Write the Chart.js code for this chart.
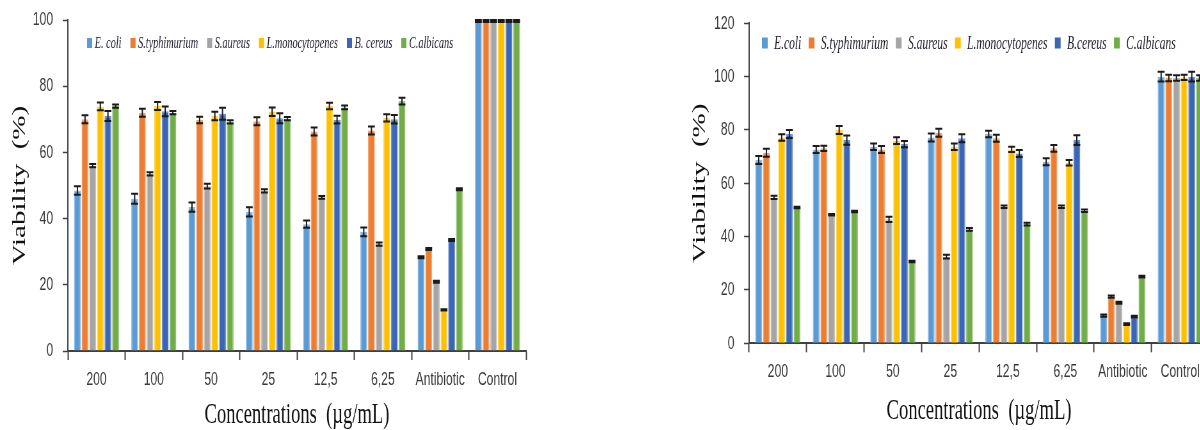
<!DOCTYPE html>
<html>
<head>
<meta charset="utf-8">
<title>Viability</title>
<script src="https://cdn.jsdelivr.net/npm/chart.js@4.4.1/dist/chart.umd.min.js"></script>
<style>
  html, body { margin: 0; padding: 0; background: #fff; width: 1200px; height: 430px; overflow: hidden; }
  /* both panels are drawn wide and squeezed horizontally, like the exported figure */
  .panel { position: absolute; top: 0; transform-origin: 0 0; transform: scaleX(0.64); }
  #panelA { left: 0; }
  #panelB { left: 680px; }
</style>
</head>
<body>
<div class="panel" id="panelA"><canvas id="chartA" width="875" height="430"></canvas></div>
<div class="panel" id="panelB"><canvas id="chartB" width="830" height="430"></canvas></div>
<script>
// concentration groups on the x axis
const categories = ['200', '100', '50', '25', '12,5', '6,25', 'Antibiotic', 'Control'];

// organism names as printed in each legend
const namesA = ['E. coli', 'S.typhimurium', 'S.aureus', 'L.monocytopenes', 'B. cereus', 'C.albicans'];
const namesB = ['E.coli', 'S.typhimurium', 'S.aureus', 'L.monocytopenes', 'B.cereus', 'C.albicans'];

const fillColors = ['#5B9BD5', '#ED7D31', '#A5A5A5', '#FFC000', '#3A66B8', '#70AD47'];
const edgeColors = ['#8DB9E4', '#F3A673', '#C4C4C4', '#FFD55C', '#6F8FCE', '#9CC67F'];

// y-axis ticks
const ticksA = [0, 20, 40, 60, 80, 100];
const ticksB = [0, 20, 40, 60, 80, 100, 120];

// panel A: viability (%) per organism, with error half-widths
const ecoliA      = [48.5, 46.0, 43.5, 42.0, 38.3, 36.0, 28.3, 99.7];
const ecoliErrA   = [1.3, 1.5, 1.4, 1.4, 1.1, 1.3, 0.3, 0.3];
const styphiA     = [70.0, 72.0, 69.8, 69.4, 66.3, 66.6, 30.8, 99.7];
const styphiErrA  = [1.2, 1.2, 1.0, 1.2, 1.2, 1.2, 0.3, 0.3];
const saureusA    = [56.0, 53.5, 49.8, 48.4, 46.4, 32.3, 20.9, 99.7];
const saureusErrA = [0.5, 0.5, 0.7, 0.5, 0.4, 0.5, 0.3, 0.3];
const lmonoA      = [73.9, 74.0, 71.0, 72.3, 74.0, 70.4, 12.4, 99.7];
const lmonoErrA   = [1.2, 1.2, 1.3, 1.3, 1.0, 1.1, 0.2, 0.3];
const bcereusA    = [71.0, 72.4, 71.7, 70.3, 69.9, 70.0, 33.5, 99.7];
const bcereusErrA = [1.5, 1.5, 1.8, 1.5, 1.2, 1.3, 0.3, 0.3];
const calbA       = [74.0, 72.0, 69.2, 70.2, 73.6, 75.5, 48.9, 99.7];
const calbErrA    = [0.5, 0.5, 0.5, 0.5, 0.6, 1.0, 0.3, 0.3];

// panel B: viability (%) per organism, with error half-widths
const ecoliB      = [68.7, 72.7, 73.7, 77.2, 78.5, 68.1, 10.4, 100.0];
const ecoliErrB   = [1.5, 1.3, 1.2, 1.5, 1.2, 1.3, 0.4, 1.8];
const styphiB     = [71.5, 73.1, 72.7, 79.0, 76.9, 73.1, 17.5, 99.5];
const styphiErrB  = [1.5, 1.0, 1.3, 1.5, 1.3, 1.3, 0.4, 1.2];
const saureusB    = [54.7, 48.2, 46.5, 32.5, 51.2, 51.2, 15.2, 99.5];
const saureusErrB = [0.6, 0.3, 1.0, 0.7, 0.5, 0.5, 0.4, 1.0];
const lmonoB      = [77.2, 80.0, 76.0, 73.7, 72.7, 67.7, 7.2, 99.7];
const lmonoErrB   = [1.2, 1.5, 1.3, 1.2, 1.0, 1.0, 0.3, 1.0];
const bcereusB    = [78.5, 76.2, 74.7, 76.9, 71.2, 76.2, 10.0, 100.0];
const bcereusErrB = [1.5, 1.7, 1.2, 1.5, 1.3, 1.8, 0.3, 1.8];
const calbB       = [50.9, 49.4, 30.7, 42.7, 44.7, 49.7, 25.0, 99.5];
const calbErrB    = [0.3, 0.3, 0.3, 0.5, 0.5, 0.5, 0.3, 1.0];

const valuesA = [ecoliA, styphiA, saureusA, lmonoA, bcereusA, calbA];
const errorsA = [ecoliErrA, styphiErrA, saureusErrA, lmonoErrA, bcereusErrA, calbErrA];
const valuesB = [ecoliB, styphiB, saureusB, lmonoB, bcereusB, calbB];
const errorsB = [ecoliErrB, styphiErrB, saureusErrB, lmonoErrB, bcereusErrB, calbErrB];

const SANS = "'Liberation Sans', Arial, sans-serif";
const SERIF = "'Liberation Serif', 'Times New Roman', serif";

// standard-deviation whiskers drawn on top of each bar
const errorBars = {
  id: 'errorBars',
  afterDatasetsDraw(chart, args, opts) {
    const { ctx } = chart;
    const y = chart.scales.y;
    ctx.save();
    ctx.strokeStyle = opts.color;
    ctx.lineWidth = opts.lineWidth;
    chart.data.datasets.forEach((ds, i) => {
      const meta = chart.getDatasetMeta(i);
      meta.data.forEach((bar, j) => {
        const v = ds.data[j], e = ds.errors[j];
        const top = y.getPixelForValue(v + e);
        const bot = y.getPixelForValue(v - e);
        const half = bar.width * opts.capRatio / 2;
        ctx.beginPath();
        ctx.moveTo(bar.x, top); ctx.lineTo(bar.x, bot);
        ctx.moveTo(bar.x - half, top); ctx.lineTo(bar.x + half, top);
        ctx.moveTo(bar.x - half, bot); ctx.lineTo(bar.x + half, bot);
        ctx.stroke();
      });
    });
    ctx.restore();
  }
};

// single-row legend placed inside the plot area
const inlineLegend = {
  id: 'inlineLegend',
  afterDraw(chart, args, o) {
    const { ctx, chartArea } = chart;
    ctx.save();
    ctx.font = o.font;
    ctx.textBaseline = 'middle';
    ctx.textAlign = 'left';
    let x = chartArea.left + o.offsetX;
    chart.data.datasets.forEach(ds => {
      ctx.fillStyle = ds.backgroundColor;
      ctx.fillRect(x, o.y - o.boxH / 2, o.boxW, o.boxH);
      x += o.boxW + o.textGap;
      ctx.fillStyle = o.color;
      ctx.fillText(ds.label, x, o.y + 1);
      x += ctx.measureText(ds.label).width + o.itemGap;
    });
    ctx.restore();
  }
};

function makeDatasets(names, values, errors) {
  return names.map((name, i) => ({
    label: name,
    data: values[i],
    errors: errors[i],
    backgroundColor: fillColors[i],
    borderColor: edgeColors[i],
    borderWidth: 1.5,
    categoryPercentage: 0.8,
    barPercentage: 0.9
  }));
}

function makeChart(id, names, values, errors, tickList, cfg) {
  return new Chart(document.getElementById(id), {
    type: 'bar',
    data: { labels: categories, datasets: makeDatasets(names, values, errors) },
    plugins: [errorBars, inlineLegend],
    options: {
      responsive: false,
      animation: false,
      devicePixelRatio: 1,
      layout: { padding: cfg.padding },
      plugins: {
        legend: { display: false },
        tooltip: { enabled: false },
        errorBars: { color: '#1a1a1a', lineWidth: 2, capRatio: 1.0 },
        inlineLegend: cfg.legend
      },
      scales: {
        x: {
          afterFit: s => { s.height = cfg.xHeight; },
          grid: { offset: true, drawOnChartArea: false, drawTicks: true, tickLength: 9, tickColor: '#404040', tickWidth: 2 },
          border: { display: true, color: '#404040', width: 2 },
          ticks: { color: '#3a3a3a', padding: 8, font: { family: SANS, size: 19 }, maxRotation: 0, autoSkip: false },
          title: { display: true, text: 'Concentrations  (µg/mL)', color: '#111', padding: 0,
                   font: { family: SERIF, size: 29, lineHeight: 1 } }
        },
        y: {
          min: 0,
          max: tickList[tickList.length - 1],
          // fixed axis width; the layout padding alone sets the plot's top edge
          afterFit: s => { s.width = cfg.yWidth; s.paddingTop = 0; s.paddingBottom = 0; },
          afterBuildTicks: s => { s.ticks = tickList.map(v => ({ value: v })); },
          grid: { drawOnChartArea: false, drawTicks: true, tickLength: 8, tickColor: '#404040', tickWidth: 1.5 },
          border: { display: true, color: '#404040', width: 2 },
          ticks: { color: '#3a3a3a', padding: 15, font: { family: SANS, size: 19 } },
          title: { display: true, text: 'Viability  (%)', color: '#111', padding: { top: 16.5 },
                   font: { family: SERIF, size: 29, lineHeight: 1 } }
        }
      }
    }
  });
}

makeChart('chartA', namesA, valuesA, errorsA, ticksA, {
  padding: { top: 20, right: 53, bottom: 0, left: 0 },
  xHeight: 79,
  yWidth: 106,
  legend: { font: 'italic 16px ' + SERIF, color: '#1e1e2e', y: 43, offsetX: 30,
            boxW: 8, boxH: 10, textGap: 4, itemGap: 14 }
});

makeChart('chartB', namesB, valuesB, errorsB, ticksB, {
  padding: { top: 23.3, right: 3.4, bottom: 4.5, left: 0 },
  xHeight: 82.2,
  yWidth: 108,
  legend: { font: 'italic 18px ' + SERIF, color: '#1e1e2e', y: 43, offsetX: 20,
            boxW: 9, boxH: 11, textGap: 10, itemGap: 11.6 }
});
</script>
</body>
</html>
